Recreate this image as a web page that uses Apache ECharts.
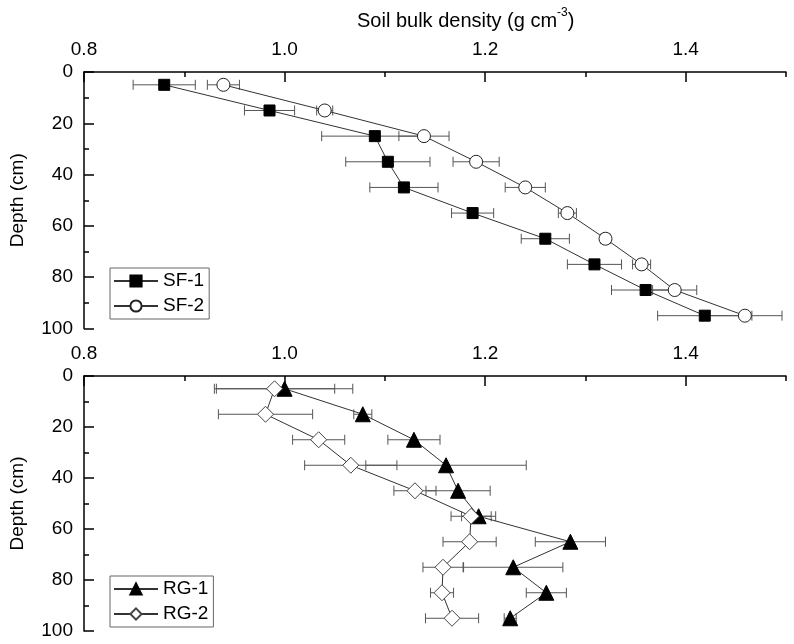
<!DOCTYPE html>
<html><head><meta charset="utf-8">
<script src="https://cdn.jsdelivr.net/npm/echarts@6/dist/echarts.min.js"></script>
<style>html,body{margin:0;padding:0;background:#fff}#c{width:794px;height:644px}</style>
</head><body><div id="c"></div>
<script>
const depths = [5, 15, 25, 35, 45, 55, 65, 75, 85, 95];
const sf1 = [0.880, 0.985, 1.090, 1.103, 1.119, 1.1875, 1.260, 1.309, 1.360, 1.419];
const sf1Err = [0.031, 0.025, 0.053, 0.042, 0.034, 0.021, 0.024, 0.027, 0.034, 0.047];
const sf2 = [0.939, 1.040, 1.139, 1.191, 1.240, 1.282, 1.320, 1.356, 1.389, 1.459];
const sf2Err = [0.016, 0.008, 0.025, 0.023, 0.020, 0.009, 0.005, 0.009, 0.022, 0.037];
const rg1 = [1.000, 1.078, 1.129, 1.161, 1.173, 1.1935, 1.285, 1.228, 1.261, 1.225];
const rg1Err = [0.068, 0.009, 0.026, 0.080, 0.032, 0.017, 0.035, 0.0495, 0.020, 0.006];
const rg2 = [0.990, 0.981, 1.034, 1.066, 1.130, 1.186, 1.1845, 1.158, 1.157, 1.167];
const rg2Err = [0.060, 0.047, 0.026, 0.046, 0.021, 0.020, 0.0265, 0.020, 0.0115, 0.0265];
const xMajorTicks = [0.8, 1.0, 1.2, 1.4];
const xMinorTicks = [0.9, 1.1, 1.3, 1.5];

const FONT = '"Liberation Sans", Arial, sans-serif';
const FS = 19;

function pts(xs){ return xs.map((v,i)=>[v, depths[i]]); }
function errPts(xs, es){ return xs.map((v,i)=>[v, depths[i], es[i]]); }

function errSeries(xs, es, gi){
  return {
    type: 'custom', xAxisIndex: gi*2, yAxisIndex: gi, z: 1, silent: true,
    data: errPts(xs, es), encode: {x: 0, y: 1},
    renderItem: function(params, api){
      const x = api.value(0), y = api.value(1), e = api.value(2);
      const p1 = api.coord([x - e, y]), p2 = api.coord([x + e, y]);
      const st = {stroke: '#555', lineWidth: 1};
      const c = 5;
      return {type: 'group', children: [
        {type: 'line', shape: {x1: p1[0], y1: p1[1], x2: p2[0], y2: p2[1]}, style: st},
        {type: 'line', shape: {x1: p1[0], y1: p1[1]-c, x2: p1[0], y2: p1[1]+c}, style: st},
        {type: 'line', shape: {x1: p2[0], y1: p2[1]-c, x2: p2[0], y2: p2[1]+c}, style: st}
      ]};
    }
  };
}

function xAxes(gi){
  return [{
    type: 'value', gridIndex: gi, position: 'top', min: 0.8, max: 1.5,
    axisLine: {show: true, lineStyle: {color: '#000', width: 1.5}},
    axisTick: {show: true, inside: true, length: 10, customValues: xMajorTicks, lineStyle: {color: '#000', width: 1.5}},
    axisLabel: {show: true, customValues: xMajorTicks, margin: 13, color: '#000', fontFamily: FONT, fontSize: FS,
      formatter: v => v.toFixed(1)},
    splitLine: {show: false}
  },{
    type: 'value', gridIndex: gi, position: 'top', min: 0.8, max: 1.5,
    axisLine: {show: false},
    axisTick: {show: true, inside: true, length: 5, customValues: xMinorTicks, lineStyle: {color: '#000', width: 1.5}},
    axisLabel: {show: false},
    splitLine: {show: false}
  }];
}

function yAxis(gi){
  return {
    type: 'value', gridIndex: gi, inverse: true, min: 0, max: 100, interval: 20,
    name: 'Depth (cm)', nameLocation: 'middle', nameGap: 57,
    nameTextStyle: {color: '#000', fontFamily: FONT, fontSize: FS},
    axisLine: {show: true, lineStyle: {color: '#000', width: 1.5}},
    axisTick: {show: true, inside: true, length: 10, lineStyle: {color: '#000', width: 1.5}},
    minorTick: {show: true, splitNumber: 2, length: 5, lineStyle: {color: '#000', width: 1.5}},
    axisLabel: {margin: 11, color: '#000', fontFamily: FONT, fontSize: FS},
    splitLine: {show: false}
  };
}

function lineSeries(name, xs, gi, symbol, size, fill, border){
  return {
    name: name, type: 'line', xAxisIndex: gi*2, yAxisIndex: gi, z: 3,
    data: pts(xs), symbol: symbol, symbolSize: size, showAllSymbol: true,
    lineStyle: {color: '#333', width: 1},
    itemStyle: {color: fill, borderColor: border, borderWidth: 1},
    emphasis: {disabled: true}
  };
}

const legendCommon = {
  orient: 'vertical', itemWidth: 44, itemHeight: 14, itemGap: 5,
  borderColor: '#666', borderWidth: 1, padding: [3, 5, 3, 3],
  textStyle: {color: '#000', fontFamily: FONT, fontSize: FS, lineHeight: 20},
  selectedMode: false
};

const option = {
  animation: false,
  backgroundColor: '#fff',
  grid: [
    {left: 83, top: 72, width: 703, height: 256.5},
    {left: 83, top: 376, width: 703, height: 255}
  ],
  xAxis: [...xAxes(0), ...xAxes(1)],
  yAxis: [yAxis(0), yAxis(1)],
  legend: [
    Object.assign({}, legendCommon, {left: 110, top: 268, data: ['SF-1', 'SF-2']}),
    Object.assign({}, legendCommon, {left: 110, top: 576, data: ['RG-1', 'RG-2']})
  ],
  graphic: [{
    type: 'text', left: 357, top: 7,
    style: {
      text: '{a|Soil bulk density (g cm}{s|-3}{a|)}',
      rich: {
        a: {fontFamily: FONT, fontSize: 20, color: '#000', lineHeight: 24, verticalAlign: 'bottom'},
        s: {fontFamily: FONT, fontSize: 12, color: '#000', lineHeight: 24, verticalAlign: 'top', padding: [0, 0, 10, 0]}
      }
    }
  }],
  series: [
    errSeries(sf1, sf1Err, 0),
    errSeries(sf2, sf2Err, 0),
    lineSeries('SF-1', sf1, 0, 'rect', 11, '#000', '#000'),
    lineSeries('SF-2', sf2, 0, 'circle', 13, '#fff', '#222'),
    errSeries(rg1, rg1Err, 1),
    errSeries(rg2, rg2Err, 1),
    lineSeries('RG-1', rg1, 1, 'triangle', 15, '#000', '#000'),
    lineSeries('RG-2', rg2, 1, 'diamond', 16, '#fff', '#444')
  ]
};

const chart = echarts.init(document.getElementById('c'), null, {renderer: 'canvas'});
chart.setOption(option);
</script>
</body></html>
